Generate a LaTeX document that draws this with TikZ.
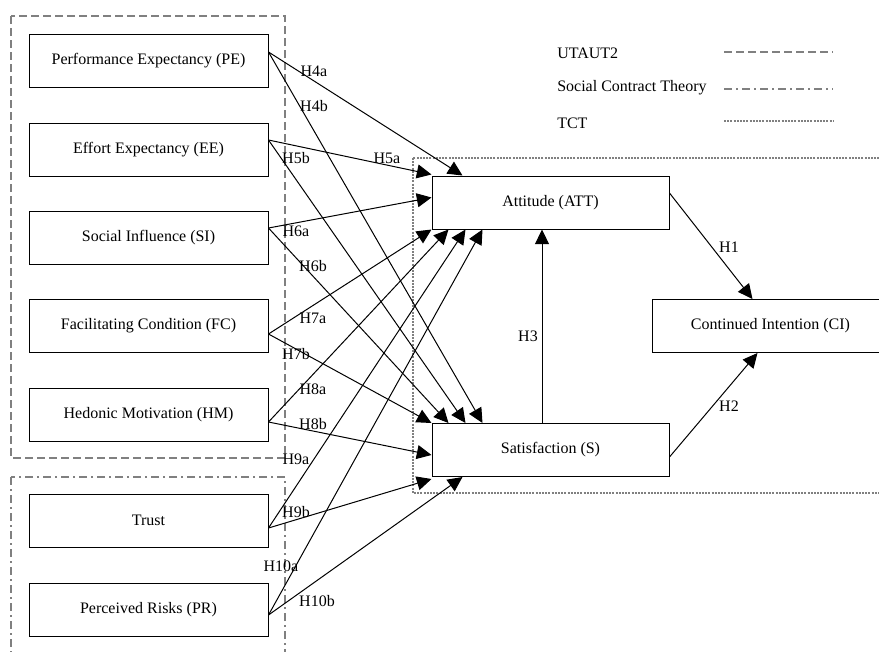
\documentclass[tikz,border=0pt]{standalone}
\usepackage{fontspec}
\setmainfont{Liberation Serif}
\usetikzlibrary{arrows.meta,calc}
\definecolor{framegray}{RGB}{128,128,128}

\begin{document}
\begin{tikzpicture}[x=0.75pt, y=-0.75pt,
    font=\fontsize{12}{14}\selectfont,
    construct/.style={draw, line width=0.75pt, minimum width=179.25pt,
        minimum height=39.75pt, inner sep=0pt},
    hyp/.style={line width=0.75pt, -{Triangle[length=11pt, width=10.5pt]}},
    hlabel/.style={inner sep=0pt},
    legendtext/.style={anchor=west, inner sep=0pt},
    utaut/.style={draw=framegray, line width=1.5pt, dash pattern=on 6pt off 3pt},
    sct/.style={draw=framegray, line width=1.5pt,
        dash pattern=on 6pt off 3pt on 1.5pt off 3pt},
    tct/.style={draw=framegray, line width=2pt, dash pattern=on 1.5pt off 0.9pt}]

    \useasboundingbox (0,0) rectangle (879,651);
    \clip (0,0) rectangle (879,651);

    %% Theory frames
    \draw[utaut] (11,16) rectangle (285,458);
    \draw[sct] (11,477) rectangle (285,700);
    \draw[tct] (413,158) rectangle (900,493);

    %% Constructs
    \node[construct] (PE) at (148.5,60.5) {Performance Expectancy (PE)};
    \node[construct] (EE) at (148.5,149.5) {Effort Expectancy (EE)};
    \node[construct] (SI) at (148.5,237.5) {Social Influence (SI)};
    \node[construct] (FC) at (148.5,326) {Facilitating Condition (FC)};
    \node[construct] (HM) at (148.5,414.5) {Hedonic Motivation (HM)};
    \node[construct] (TR) at (148.5,520.5) {Trust};
    \node[construct] (PR) at (148.5,609.5) {Perceived Risks (PR)};

    \node[construct, minimum width=177.75pt] (ATT) at (550.5,202.5) {Attitude (ATT)};
    \node[construct, minimum width=177.75pt] (SAT) at (550.5,450) {Satisfaction (S)};
    \node[construct, minimum width=177.75pt] (CI) at (770.5,326) {Continued Intention (CI)};

    %% Hypotheses towards ATT and S
    % PE
    \draw[hyp] ($(PE.east)+(0,-8.5)$) -- ($(ATT.north west)+(31,0)$);
    \draw[hyp] ($(PE.east)+(0,-8.5)$) -- ($(SAT.north west)+(51,0)$);
    % EE
    \draw[hyp] ($(EE.east)+(0,-9.5)$) -- ($(ATT.north west)+(0,-1)$);
    \draw[hyp] ($(EE.east)+(0,-9.5)$) -- ($(SAT.north west)+(34,0)$);
    % SI
    \draw[hyp] ($(SI.east)+(0,-9.5)$) -- ($(ATT.west)+(0,-5)$);
    \draw[hyp] ($(SI.east)+(0,-9.5)$) -- ($(SAT.north west)+(17,0)$);
    % FC
    \draw[hyp] ($(FC.east)+(0,8)$) -- (ATT.south west);
    \draw[hyp] ($(FC.east)+(0,8)$) -- (SAT.north west);
    % HM
    \draw[hyp] ($(HM.east)+(0,7.5)$) -- ($(ATT.south west)+(17,0)$);
    \draw[hyp] ($(HM.east)+(0,7.5)$) -- ($(SAT.west)+(0,5)$);
    % Trust
    \draw[hyp] ($(TR.east)+(0,7.5)$) -- ($(ATT.south west)+(34,0)$);
    \draw[hyp] ($(TR.east)+(0,7.5)$) -- ($(SAT.south west)+(0,2)$);
    % PR
    \draw[hyp] ($(PR.east)+(0,5.5)$) -- ($(ATT.south west)+(51,0)$);
    \draw[hyp] ($(PR.east)+(0,5.5)$) -- ($(SAT.south west)+(31,0)$);

    %% Hypotheses towards CI
    \draw[hyp] ($(ATT.east)+(0,-9.5)$) -- ($(CI.north west)+(101,0)$);
    \draw[hyp] ($(SAT.east)+(0,7)$) -- ($(CI.south west)+(106,0)$);
    \draw[hyp] ($(SAT.north)+(-8.5,0)$) -- ($(ATT.south)+(-8.5,0)$);

    %% Labels
    \node[hlabel] (h4a) at (314,71) {H4a};
    \node[hlabel] (h4b) at (314,106) {H4b};
    \node[hlabel] (h5a) at (387,158) {H5a};
    \node[hlabel] (h5b) at (296,158) {H5b};
    \node[hlabel] (h6a) at (296,231) {H6a};
    \node[hlabel] (h6b) at (313,266) {H6b};
    \node[hlabel] (h7a) at (313,318) {H7a};
    \node[hlabel] (h7b) at (296,354) {H7b};
    \node[hlabel] (h8a) at (313,389) {H8a};
    \node[hlabel] (h8b) at (313,424) {H8b};
    \node[hlabel] (h9a) at (296,459) {H9a};
    \node[hlabel] (h9b) at (296,512) {H9b};
    \node[hlabel] (h10a) at (281,566) {H10a};
    \node[hlabel] (h10b) at (317,601) {H10b};
    \node[hlabel] (h1) at (729,247) {H1};
    \node[hlabel] (h2) at (729,406) {H2};
    \node[hlabel] (h3) at (528,336) {H3};

    %% Legend
    \node[legendtext] (lgU) at (557,53) {UTAUT2};
    \node[legendtext] (lgS) at (557,88) {Social Contract Theory};
    \node[legendtext] (lgT) at (557,123) {TCT};
    \draw[utaut] (724,52) -- (833,52);
    \draw[sct] (724,89) -- (833,89);
    \draw[tct] (724,121) -- (833,121);

\end{tikzpicture}
\end{document}
